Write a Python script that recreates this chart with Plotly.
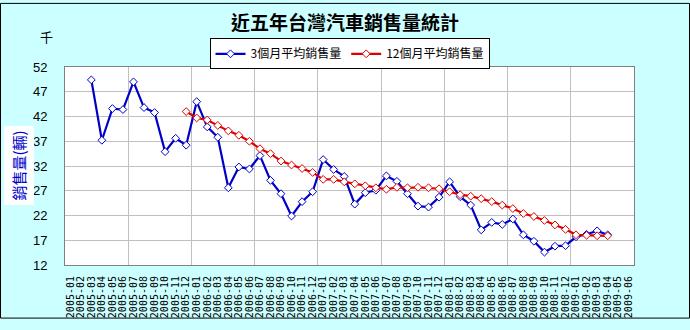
import plotly.graph_objects as go

# Monthly categories 2005-01 .. 2009-06
months = [f"{y}-{m:02d}" for y in range(2005, 2010) for m in range(1, 13)][:54]

# 3-month moving average of sales (thousand units), from 2005-03 to 2009-04
avg3 = [None, None,
        49.4, 37.2, 43.6, 43.4, 49.0, 43.8, 42.8, 34.9, 37.6, 36.2,
        45.0, 39.9, 37.8, 27.6, 31.8, 31.4, 34.1, 29.1, 26.4, 21.9, 24.8, 26.8,
        33.3, 31.3, 29.9, 24.3, 26.6, 27.1, 30.0, 28.9, 26.4, 23.9, 23.7, 25.7,
        28.8, 25.8, 24.1, 19.1, 20.6, 20.2, 21.3, 18.1, 16.8, 14.6, 15.8, 15.9,
        17.7, 18.2, 18.9, 18.1, None, None]

# 12-month moving average, from 2005-12 to 2009-04
avg12 = [None] * 11 + [
        43.0,
        41.7, 41.3, 40.2, 39.1, 38.2, 37.0, 35.5, 34.5, 33.0, 32.2, 31.5, 30.7,
        29.3, 29.3, 28.8, 28.4, 28.0, 27.6, 27.3, 27.7, 27.6, 27.7, 27.6, 27.4,
        26.8, 26.2, 25.9, 25.4, 24.8, 24.1, 23.4, 22.4, 21.8, 21.0, 20.1, 19.2,
        18.1, 18.0, 17.9, 17.9, None, None]

y_ticks = [12, 17, 22, 27, 32, 37, 42, 47, 52]

W, H = 690, 330
ML, MR, MT, MB = 65, 56, 67, 56
PW, PH = W - ML - MR, H - MT - MB

xs = list(range(len(months)))

fig = go.Figure()
fig.add_trace(go.Scatter(
    x=xs, y=avg3, name="3個月平均銷售量", mode="lines+markers",
    line=dict(color="#0000C8", width=2.2),
    marker=dict(symbol="diamond", size=6, color="white",
                line=dict(color="#0000C8", width=1)),
))
fig.add_trace(go.Scatter(
    x=xs, y=avg12, name="12個月平均銷售量", mode="lines+markers",
    line=dict(color="#DD0000", width=2.2),
    marker=dict(symbol="diamond", size=6, color="white",
                line=dict(color="#DD0000", width=1)),
))

fig.update_layout(
    width=W, height=H,
    margin=dict(l=ML, r=MR, t=MT, b=MB, pad=0),
    paper_bgcolor="#CCFFFF",
    plot_bgcolor="white",
    font=dict(family="Liberation Sans, Arial, Noto Sans CJK TC", color="black"),
    title=dict(text="<b>近五年台灣汽車銷售量統計</b>",
               x=0.5, xref="container", xanchor="center",
               y=1 - 23 / H, yref="container", yanchor="middle",
               font=dict(family="Noto Sans CJK TC", size=19, color="black")),
    showlegend=True,
    legend=dict(orientation="h", x=0.5, xanchor="center",
                y=1 + (MT - 37) / PH, yanchor="top",
                bgcolor="white", bordercolor="black", borderwidth=1,
                font=dict(family="Noto Sans CJK TC", size=12, color="black"),
                itemwidth=30, tracegroupgap=0),
    xaxis=dict(
        range=[-0.5, len(months) - 0.5],
        tickmode="array", tickvals=xs, ticktext=months,
        tickangle=-90, ticks="", showgrid=False, zeroline=False,
        tickfont=dict(family="DejaVu Sans Mono", size=10, color="black"),
        ticklabelstandoff=6,
        showline=True, linecolor="#808080", linewidth=1, mirror=True,
        minor=dict(tickmode="linear", tick0=-0.5, dtick=6, showgrid=True,
                   gridcolor="#C0C0C0", gridwidth=1, ticks=""),
    ),
    yaxis=dict(
        range=[12, 52], tickmode="array", tickvals=y_ticks,
        ticks="", showgrid=True, gridcolor="#C0C0C0", gridwidth=1,
        zeroline=False,
        tickfont=dict(family="Liberation Sans, Arial", size=13, color="black"),
        ticklabelstandoff=14,
        showline=True, linecolor="#808080", linewidth=1, mirror=True,
    ),
)

# unit mark and vertical axis caption
fig.add_annotation(text="千", xref="paper", yref="paper",
                   x=(46 - ML) / PW, y=1 + (MT - 35) / PH,
                   showarrow=False, xanchor="center", yanchor="middle",
                   font=dict(family="Noto Sans CJK TC", size=13, color="black"))
fig.add_annotation(text="銷售量(輛)", xref="paper", yref="paper",
                   x=(19 - ML) / PW, y=(MT + PH - 170) / PH,
                   textangle=-90, showarrow=False,
                   xanchor="center", yanchor="middle",
                   bgcolor="white", borderpad=4,
                   font=dict(family="Noto Sans CJK TC", size=15, color="#0000CC"))

# outer frame of the chart
fig.add_shape(type="rect", xref="paper", yref="paper",
              x0=(0.5 - ML) / PW, x1=(W - 0.5 - ML) / PW,
              y0=(MT + PH - (H - 0.5)) / PH, y1=(MT + PH - 0.5) / PH,
              line=dict(color="black", width=1), fillcolor="rgba(0,0,0,0)",
              layer="below")

fig.write_html("out.html")
